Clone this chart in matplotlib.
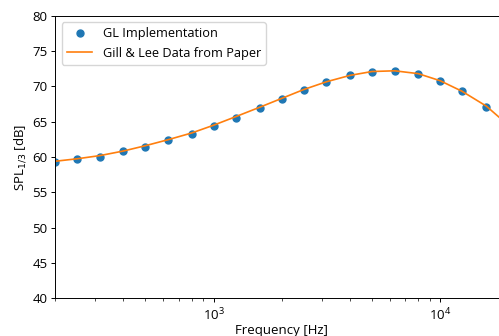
import matplotlib
matplotlib.use("Agg")
import matplotlib.pyplot as plt

plt.rcParams['font.family'] = ['Open Sans', 'DejaVu Sans']
plt.rcParams['font.size'] = 9.5

freq = [200, 250, 315, 400, 500, 630, 800, 1000, 1250, 1600, 2000, 2500,
        3150, 4000, 5000, 6300, 8000, 10000, 12500, 16000]
gl_impl = [59.25, 59.67, 60.04, 60.8, 61.4, 62.36, 63.25, 64.39, 65.52, 66.98,
           68.2, 69.48, 70.6, 71.56, 72.07, 72.17, 71.79, 70.8, 69.3, 67.12]

paper_freq = [200, 250, 315, 400, 500, 630, 800, 1000, 1250, 1600, 2000, 2500,
              3150, 4000, 5000, 6300, 8000, 10000, 12500, 16000, 20000]
paper_spl = [59.4, 59.75, 60.2, 60.85, 61.6, 62.45, 63.4, 64.5, 65.7, 67.05,
             68.3, 69.55, 70.65, 71.55, 72.1, 72.2, 71.8, 70.8, 69.3, 67.2, 64.5]

W, H = 499, 336
fig = plt.figure(figsize=(W / 100, H / 100), dpi=100)
ax = fig.add_axes([55.3 / W, (H - 298.3) / H, (508.3 - 55.3) / W, 282.6 / H])

ax.plot(freq, gl_impl, 'o', color='C0', markersize=5, label='GL Implementation')
ax.plot(paper_freq, paper_spl, '-', color='C1', linewidth=1.2, label='Gill & Lee Data from Paper')
ax.set_xscale('log')
ax.set_xlim(200, 20000)
ax.set_ylim(40, 80)
ax.tick_params(length=3.2, width=0.7, pad=2.5)
ax.tick_params(which='minor', length=1.8, width=0.5)
for s in ax.spines.values():
    s.set_linewidth(0.7)
ax.set_xlabel('Frequency [Hz]', labelpad=1)
ax.set_ylabel(r'SPL$_{1/3}$ [dB]', labelpad=3)
ax.legend(loc='upper left', fontsize=9.2)

fig.savefig('out.png', dpi=100)
